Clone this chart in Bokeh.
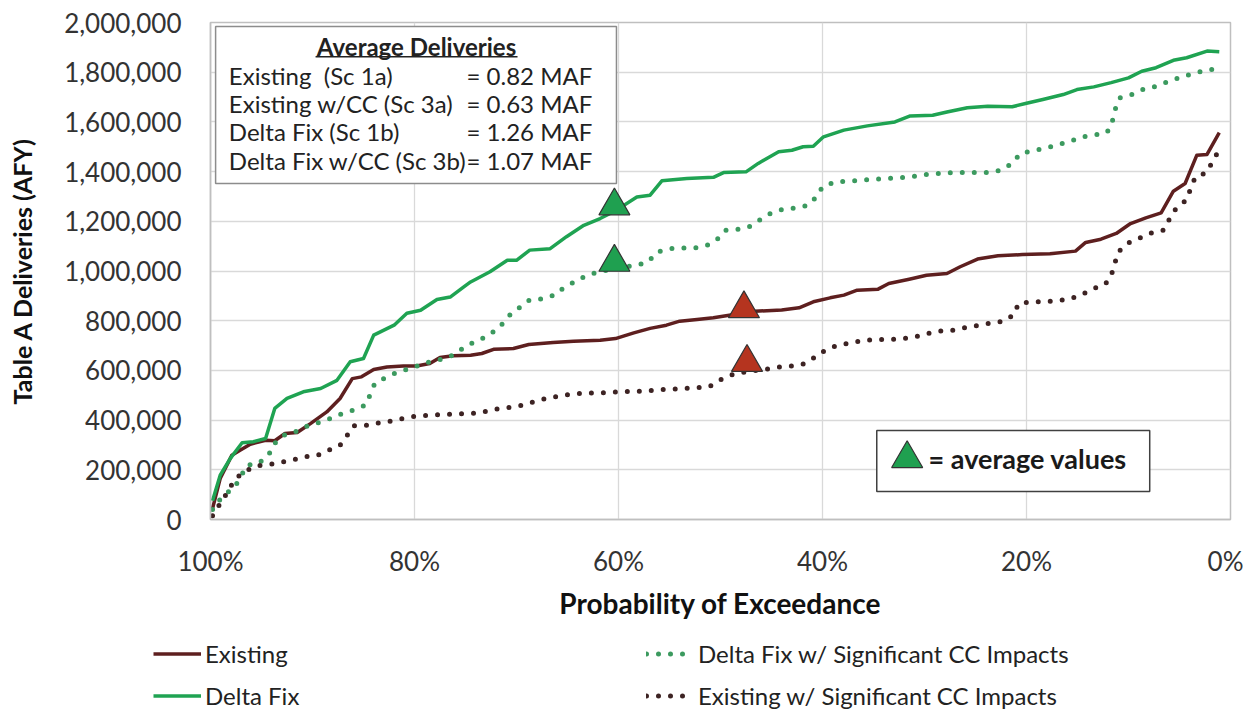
from bokeh.plotting import figure
from bokeh.models import (Range1d, FixedTicker, NumeralTickFormatter, PrintfTickFormatter,
                          Legend, LegendItem, Label)
from bokeh.embed import file_html
from bokeh.resources import INLINE

FONT = "Lato"

# ---------------- data ----------------
# Probability of exceedance (%) and Table A deliveries (AFY)
existing_p = [99.8, 99.05, 97.9, 97.1, 96.1, 94.6, 93.7, 92.7, 91.5, 90.2, 88.6, 87.3, 86.1, 85.2,
              84.0, 82.7, 81.1, 79.8, 78.5, 77.5, 76.2, 74.5, 73.4, 72.25, 70.3, 68.8, 66.4, 64.4,
              61.8, 60.3, 58.5, 56.9, 55.3, 54.0, 52.3, 50.7, 46.65, 44.0, 42.3, 40.9, 39.25, 37.9,
              36.6, 34.55, 33.5, 31.5, 29.8, 27.8, 26.5, 24.8, 22.8, 20.4, 17.7, 15.2, 14.2, 12.7,
              11.2, 9.8, 8.3, 6.8, 5.6, 4.45, 3.3, 2.3, 1.1]
existing_v = [44000, 165000, 259000, 279000, 303000, 319000, 317000, 346000, 350000, 386000,
              433000, 487000, 567000, 574000, 604000, 614000, 618000, 618000, 628000, 652000,
              659000, 661000, 668000, 685000, 688000, 704000, 712000, 717000, 721000, 728000,
              751000, 769000, 782000, 798000, 805000, 812000, 838000, 843000, 852000, 876000,
              892000, 903000, 923000, 927000, 950000, 967000, 983000, 990000, 1017000, 1048000,
              1061000, 1066000, 1069000, 1080000, 1115000, 1128000, 1151000, 1191000, 1214000,
              1234000, 1321000, 1352000, 1466000, 1469000, 1557000]

deltafix_p = [99.8, 99.05, 98.07, 96.9, 95.8, 94.6, 93.7, 92.5, 90.9, 89.2, 87.6, 86.3, 85.0, 84.0,
              82.0, 80.75, 79.4, 77.8, 76.5, 75.2, 74.5, 72.6, 70.9, 70.0, 68.7, 66.7, 65.1, 63.4,
              61.8, 60.2, 58.2, 56.9, 55.75, 53.3, 50.7, 49.7, 47.5, 46.3, 44.3, 43.0, 41.9, 40.9,
              39.9, 37.9, 35.6, 32.9, 31.4, 29.2, 27.8, 25.8, 23.8, 21.4, 20.1, 18.4, 16.4, 15.05,
              13.4, 11.7, 10.0, 8.7, 7.3, 5.6, 4.3, 2.3, 1.1]
deltafix_v = [75000, 178000, 245000, 309000, 313000, 326000, 447000, 487000, 514000, 527000,
              560000, 635000, 648000, 742000, 782000, 830000, 842000, 885000, 895000, 935000,
              956000, 997000, 1043000, 1043000, 1084000, 1090000, 1138000, 1184000, 1211000,
              1245000, 1298000, 1305000, 1363000, 1372000, 1377000, 1396000, 1399000, 1433000,
              1480000, 1486000, 1500000, 1502000, 1540000, 1567000, 1584000, 1600000, 1624000,
              1627000, 1640000, 1657000, 1663000, 1661000, 1674000, 1690000, 1710000, 1730000,
              1741000, 1758000, 1777000, 1804000, 1818000, 1848000, 1858000, 1885000, 1882000]

deltafix_cc_p = [99.8, 98.9, 97.6, 96.4, 95.3, 94.3, 93.8, 92.8, 91.7, 90.7, 89.4, 88.3, 87.1, 86.0,
                 84.8, 84.3, 83.9, 82.7, 81.6, 80.4, 79.1, 77.8, 76.7, 75.7, 74.7, 73.6, 72.4, 71.5,
                 70.6, 69.6, 68.7, 67.4, 66.3, 65.2, 64.1, 63.1, 61.8, 60.4, 59.5, 58.2, 57.1, 56.2,
                 54.9, 53.6, 52.5, 51.3, 50.4, 49.5, 48.3, 47.2, 46.1, 45.0, 43.8, 42.6, 41.4, 40.6,
                 40.0, 38.75, 37.4, 36.2, 35.05, 33.7, 32.5, 31.2, 30.0, 28.7, 27.5, 26.15, 25.0,
                 23.6, 22.45, 21.4, 20.6, 19.4, 18.2, 17.1, 15.7, 14.5, 13.4, 12.1, 11.6, 11.3,
                 10.85, 9.7, 8.5, 7.2, 6.0, 4.8, 3.6, 2.4, 1.2]
deltafix_cc_v = [40000, 90000, 132000, 219000, 225000, 259000, 303000, 339000, 353000, 373000,
                 390000, 406000, 426000, 440000, 460000, 507000, 547000, 574000, 594000, 608000,
                 628000, 641000, 651000, 677000, 704000, 722000, 751000, 782000, 825000, 856000,
                 884000, 888000, 903000, 938000, 960000, 983000, 997000, 1010000, 1017000, 1023000,
                 1037000, 1077000, 1090000, 1093000, 1093000, 1104000, 1124000, 1164000, 1168000,
                 1178000, 1207000, 1234000, 1249000, 1254000, 1265000, 1298000, 1339000, 1359000,
                 1361000, 1365000, 1369000, 1372000, 1375000, 1380000, 1388000, 1392000, 1395000,
                 1396000, 1396000, 1396000, 1406000, 1433000, 1473000, 1484000, 1493000, 1506000,
                 1522000, 1540000, 1547000, 1557000, 1600000, 1651000, 1697000, 1710000, 1732000,
                 1744000, 1764000, 1781000, 1795000, 1808000, 1815000]

existing_cc_p = [99.8, 99.05, 98.2, 97.7, 96.8, 95.6, 94.3, 93.2, 92.0, 90.9, 89.6, 88.4, 87.3, 86.6,
                 86.0, 84.7, 83.4, 82.2, 80.9, 79.8, 78.5, 77.2, 76.0, 74.7, 73.6, 72.3, 71.1, 69.8,
                 68.7, 67.4, 66.2, 64.9, 63.75, 62.45, 61.1, 60.0, 58.7, 57.4, 56.2, 54.9, 53.6,
                 52.3, 51.1, 50.1, 49.0, 47.4, 45.5, 44.1, 42.8, 41.7, 40.6, 39.6, 38.4, 37.1, 35.9,
                 34.6, 33.4, 32.2, 30.9, 29.7, 28.5, 27.15, 25.9, 24.6, 23.4, 22.2, 21.2, 20.8, 19.5,
                 18.2, 17.0, 15.7, 14.5, 13.4, 12.3, 11.7, 11.35, 11.0, 10.0, 8.8, 7.7, 6.6, 6.0,
                 5.35, 4.35, 3.9, 3.45, 2.4, 1.8, 1.2]
existing_cc_v = [15000, 64000, 118000, 158000, 189000, 215000, 221000, 229000, 239000, 252000,
                 256000, 279000, 299000, 339000, 377000, 379000, 390000, 397000, 409000, 416000,
                 420000, 423000, 424000, 427000, 429000, 443000, 449000, 456000, 469000, 484000,
                 494000, 503000, 507000, 510000, 510000, 514000, 516000, 516000, 523000, 524000,
                 527000, 530000, 534000, 560000, 581000, 595000, 605000, 614000, 618000, 628000,
                 657000, 685000, 702000, 712000, 722000, 724000, 724000, 728000, 735000, 748000,
                 758000, 762000, 773000, 782000, 791000, 798000, 825000, 869000, 876000, 877000,
                 880000, 888000, 907000, 930000, 945000, 981000, 1030000, 1077000, 1113000,
                 1134000, 1154000, 1164000, 1208000, 1251000, 1285000, 1332000, 1379000, 1395000,
                 1437000, 1482000]

# average-value markers
avg_p = [60.4, 60.4, 47.7, 47.4]
avg_v = [1262000, 1035000, 848000, 632000]
avg_fill = ["#1fa050", "#1fa050", "#b5341f", "#b5341f"]

# text of the "Average Deliveries" box
avg_title = "Average Deliveries"
avg_names = ["Existing\u00a0\u00a0(Sc 1a)", "Existing w/CC (Sc 3a)", "Delta Fix (Sc 1b)",
             "Delta Fix w/CC (Sc 3b)"]
avg_texts = ["= 0.82 MAF", "= 0.63 MAF", "= 1.26 MAF", "= 1.07 MAF"]

y_ticks = [0, 200000, 400000, 600000, 800000, 1000000, 1200000, 1400000, 1600000, 1800000, 2000000]
x_ticks = [100, 80, 60, 40, 20, 0]

series_labels = ["Existing", "Delta Fix", "Delta Fix w/ Significant CC Impacts",
                 "Existing w/ Significant CC Impacts"]

# ---------------- styles ----------------
EX_STYLE = dict(line_color="#5e1f1f", line_width=3.5, line_join="round")
DF_STYLE = dict(line_color="#1fa352", line_width=3.5, line_join="round")
DFCC_STYLE = dict(line_color="#3c9a5f", line_width=5, line_dash="0 12", line_cap="round")
EXCC_STYLE = dict(line_color="#3d2323", line_width=5, line_dash="0 12", line_cap="round")

# ---------------- main figure ----------------
p = figure(width=1243, height=626, x_range=Range1d(100, 0), y_range=Range1d(0, 2000000),
           output_backend="svg", toolbar_location=None,
           min_border_left=210, min_border_right=13, min_border_top=22, min_border_bottom=107)
p.background_fill_color = "white"
p.border_fill_color = "white"
p.outline_line_color = "#bfbfbf"
p.outline_line_width = 1.5

for ax in (p.xaxis[0], p.yaxis[0]):
    ax.axis_line_color = "#bfbfbf"
    ax.axis_line_width = 1.5
    ax.major_tick_line_color = None
    ax.minor_tick_line_color = None
    ax.major_tick_out = 0
    ax.major_tick_in = 0
    ax.minor_tick_out = 0
    ax.minor_tick_in = 0
    ax.major_label_text_font = FONT
    ax.major_label_text_font_size = "26px"
    ax.major_label_text_color = "#333333"
    ax.axis_label_text_font = FONT
    ax.axis_label_text_font_style = "bold"
    ax.axis_label_text_color = "#111111"

p.yaxis.ticker = FixedTicker(ticks=y_ticks)
p.yaxis.formatter = NumeralTickFormatter(format="0,0")
p.yaxis.major_label_standoff = 29
p.yaxis.axis_label = "Table A Deliveries (AFY)"
p.yaxis.axis_label_text_font_size = "25px"
p.yaxis.axis_label_standoff = 24

p.xaxis.ticker = FixedTicker(ticks=x_ticks)
p.xaxis.formatter = PrintfTickFormatter(format="%d%%")
p.xaxis.major_label_standoff = 25
p.xaxis.axis_label = "Probability of Exceedance"
p.xaxis.axis_label_text_font_size = "28px"
p.xaxis.axis_label_standoff = 6

p.xgrid.ticker = FixedTicker(ticks=x_ticks)
p.ygrid.ticker = FixedTicker(ticks=y_ticks)
p.grid.grid_line_color = "#d9d9d9"
p.grid.grid_line_width = 1.3

# ---------------- series ----------------
p.line(existing_p, existing_v, **EX_STYLE)
p.line(deltafix_p, deltafix_v, **DF_STYLE)
p.line(deltafix_cc_p, deltafix_cc_v, **DFCC_STYLE)
p.line(existing_cc_p, existing_cc_v, **EXCC_STYLE)

p.scatter(avg_p, avg_v, marker="triangle", size=31, fill_color=avg_fill,
          line_color="#333333", line_width=1.2)

# ---------------- "Average Deliveries" box ----------------
p.rect(x=[79.85], y=[1668000], width=[39.3], height=[632000], fill_color="white",
       line_color="#8c8c8c", line_width=1.5)
p.add_layout(Label(x=79.8, y=1903000, text=avg_title, text_font=FONT, text_font_size="24px",
                   text_font_style="bold", text_align="center", text_baseline="middle",
                   text_color="#222222"))
p.segment(x0=[89.7], y0=[1862000], x1=[69.9], y1=[1862000], line_color="#222222", line_width=1.5)
row_y = [1786000, 1674000, 1561000, 1445000]
for name, val, yy in zip(avg_names, avg_texts, row_y):
    p.add_layout(Label(x=98.2, y=yy, text=name, text_font=FONT, text_font_size="24px",
                       text_align="left", text_baseline="middle", text_color="#222222"))
    p.add_layout(Label(x=74.9, y=yy, text=val, text_font=FONT, text_font_size="24px",
                       text_align="left", text_baseline="middle", text_color="#222222"))

# ---------------- "= average values" box ----------------
p.rect(x=[21.3], y=[235500], width=[26.76], height=[245000], fill_color="white",
       line_color="#404040", line_width=1.5)
p.scatter([31.7], [245000], marker="triangle", size=31, fill_color="#1fa050",
          line_color="#333333", line_width=1.2)
p.add_layout(Label(x=29.6, y=245000, text="= average values", text_font=FONT,
                   text_font_size="27px", text_font_style="bold", text_align="left",
                   text_baseline="middle", text_color="#1a1a1a"))

# ---------------- legend strip below the chart (separate root, no frame alignment) ----------------
lg = figure(width=1243, height=90, x_range=Range1d(0, 1), y_range=Range1d(0, 1),
            output_backend="svg", toolbar_location=None, x_axis_type=None, y_axis_type=None,
            min_border=0)
lg.outline_line_color = None
lg.grid.visible = False
lg.background_fill_color = "white"
lg.border_fill_color = "white"
# legend-only proxies, placed outside the visible range
d_ex = lg.line([5, 6], [5, 6], **EX_STYLE)
d_df = lg.line([5, 6], [5, 6], **DF_STYLE)
d_dfcc = lg.line([5, 6], [5, 6], **DFCC_STYLE)
d_excc = lg.line([5, 6], [5, 6], **EXCC_STYLE)

common = dict(orientation="vertical", glyph_width=48, glyph_height=29, label_height=29,
              label_standoff=4, spacing=13, padding=0, margin=0, border_line_color=None,
              background_fill_alpha=0, label_text_font=FONT, label_text_font_size="24px",
              label_text_color="#222222")
leg1 = Legend(items=[LegendItem(label=series_labels[0], renderers=[d_ex]),
                     LegendItem(label=series_labels[1], renderers=[d_df])],
              location=(153, 6.5), **common)
leg2 = Legend(items=[LegendItem(label=series_labels[2], renderers=[d_dfcc]),
                     LegendItem(label=series_labels[3], renderers=[d_excc])],
              location=(646, 6.5), **common)
lg.add_layout(leg1)
lg.add_layout(leg2)

open("out.html", "w").write(file_html([p, lg], INLINE))
